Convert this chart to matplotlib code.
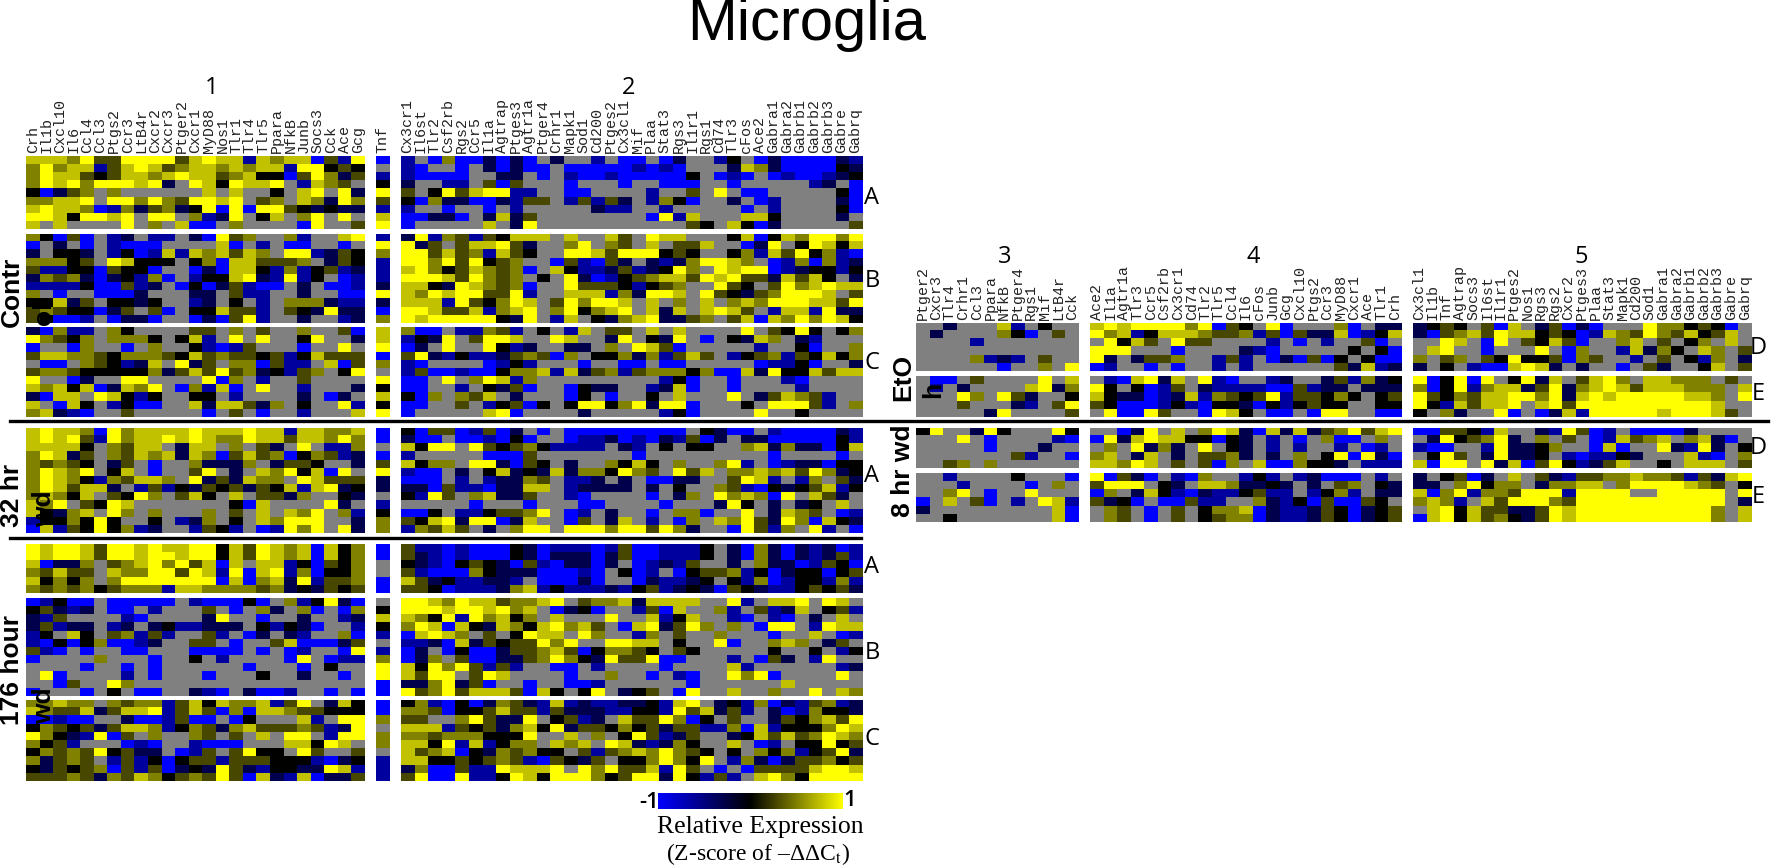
import numpy as np
import matplotlib
matplotlib.use("Agg")
import matplotlib.pyplot as plt
from matplotlib.colors import LinearSegmentedColormap

W, H = 1772, 868
plt.rcParams['mathtext.fontset'] = 'stix'

# ---------- gene labels ----------
genes1 = "Crh Il1b Cxcl10 Il6 Ccl4 Ccl3 Ptgs2 Ccr3 LtB4r Cxcr2 Cxcr3 Ptger2 Cxcr1 MyD88 Nos1 Tlr1 Tlr4 Tlr5 Ppara NfkB Junb Socs3 Cck Ace Gcg".split()
genes_tnf = ["Tnf"]
genes2 = "Cx3cr1 Il6st Tlr2 Csf2rb Rgs2 Ccr5 Il1a Agtrap Ptges3 Agtr1a Ptger4 Crhr1 Mapk1 Sod1 Cd200 Ptges2 Cx3cl1 Mif Plaa Stat3 Rgs3 Il1r1 Rgs1 Cd74 Tlr3 cFos Ace2 Gabra1 Gabra2 Gabrb1 Gabrb2 Gabrb3 Gabre Gabrq".split()
genes3 = "Ptger2 Cxcr3 Tlr4 Crhr1 Ccl3 Ppara NfkB Ptger4 Rgs1 Mif LtB4r Cck".split()
genes4 = "Ace2 Il1a Agtr1a Tlr3 Ccr5 Csf2rb Cx3cr1 Cd74 Tlr2 Tlr5 Ccl4 Il6 cFos Junb Gcg Cxcl10 Ptgs2 Ccr3 MyD88 Cxcr1 Ace Tlr1 Crh".split()
genes5 = "Cx3cl1 Il1b Tnf Agtrap Socs3 Il6st Il1r1 Ptges2 Nos1 Rgs3 Rgs2 Cxcr2 Ptges3 Plaa Stat3 Mapk1 Cd200 Sod1 Gabra1 Gabra2 Gabrb1 Gabrb2 Gabrb3 Gabre Gabrq".split()

# ---------- values: one letter per cell ----------
# B -1, b -.6, n -.3, k 0, d .3, o .5, m .75, y 1, . not detected
levels = {'B': -1, 'b': -.62, 'n': -.3, 'k': 0, 'd': .28, 'o': .5, 'm': .75, 'y': 1, '.': np.nan}

p1_contr_a = ["mmmoyddyyyydmymmbmommBdby","oyommbdmymdommomommbyykdk","oymmdkdmmomymmdomkkBdyond","oymyoyyymyn.ymkymmy.bmod.","kBndo.o......m.m..k.my.yn","oommy.yyoyodyymy.do.monyo","mymmoBbondonkyByByydknknn","yymkyymy.yy.obny.km.oy.y.","m.m....y.o.mBB.o....By..d"]
p1_contr_b = ["okBdB.bn.bb.nBydo..ob..my","B.n.B.bBBB....mB.b.BB..B.","n.kkn.bkBbmbmomdmo.yybndk","oookd.ymkkk.koBmmdddo.ndk","dbbkkBdkkB..BnBmmkbobkdbn","nodonBnkboB.bkkmynbybk.Bb","bbbbkBBdbn.BkBndbBB.n.BBb","o.B..BBBn...nn.dbb..n..BB","kkmnd.kknk..bn.k.b.ooonbb","dodkkBnd.dB.kkmddb.dknynn","dkBBb.BnnB..BnBdyb..n..bn"]
p1_contr_c = ["nBobb.ok....dd.o.d..o..dB","yodko.oook.kmb.y.y..ky..n","B..Bo..B.o..kbBbd...B..y.","dmmoodkooodkmdoddkdbkmddd",".BB.odkbnm.ynd.ooBdbb.mBd","doodkkkkkondmdydonkbdo.ky","y..Bn..yy....yBo.b..d....","momkmBnmoy.BobmB.y..b...n","nBmm.ymkbk..kk.b....n.Bn.","m.Bmk.bkBB..mnmmdno.k..yb","omnbB..d.....B.d.B..b...m"]
p1_32_a = ["mymmoByommmmymmmymmbmmoom","mymydbyommymymooymmdmmoyo","mmmmk.odmm.nmm.o.dn.y.bbo","oymnd.odmomnmoBdmdoBkodbn","ododk.nd.B..onnno.nddk..n","oymoy.km.B..dy.n.moykmBy.","oymokbodmmo.yndnmoo.ymddd","oymdmmn.bdbkndkdndkmbmynk","omokm.dkyo.dmk.m.ddno..kn","moy.dkym.......kBm....yn.","mknom.yo.o...o.d.m.moy.ob","bkkokyk..k.bno.k.moyyy..n","Bmbdkykobn..bdkb.Bbyoy.yn"]
p1_176_a = ["ymyymdyymymmyykmdymomBmko","ymyymdyymyymyykmdymomBmko","mBnno.domyoydmBm.mmbkBdko","odmdd.mooyydymbyBmyboBkko","mkoko.oyyyyyyyBmBomnybddo","ododokdooobmmoooodonkndkd"]
p1_176_b = ["BbkBB.BBBBB.bBBBkB.obkynB","kdnbn.BB.b...d.B.on.oB.Bo","nbd....bB....ny..B..n..bn","ndbnn.bn.nkbbnnn.kbknB..b","bk.mk.dobdb..db.Bn.nb..oB","bBkBkoBBbn..dd.B..dmBBBnd","dbB.B..BB...BBBB.B.Bb..By","B....o...B..k.b....By.Bbb","....B..B.B......B...B.k..",".yB....b.B...B...k..n..B.","..Bd..yo.................","B...B.k.BB..nbB.nBBb..B.B"]
p1_176_c = ["oomoo.odoobdmkmoombdy.nmk","moddmndmmybdmdBoBmmoddkkk","BBbBB..nBBbdBB.Bk...mb.yy","kodkdndmmobkodnomdddodbny","yoknbyBd.o..od.d.m.yy.byy","okdb...BbB..bBBB...mmkym.","kododykdnn.Bbd.dykk.yd..d","ondod.bdbkBkddbdddkkkbBnk","kndkdoBdbdBnknydnbkknnymb","dddodnodmokdodydBmnbmBnnd"]

tnf_contr_a = "B.bkydbmy"
tnf_contr_b = "byobbbnynBo"
tnf_contr_c = "mmyBo.ykmky"
tnf_32_a = "BB.Bdynn.bkoo"
tnf_176_a = "BB..BB"
tnf_176_b = ".kmkb.boyyBB"
tnf_176_c = "BBo.oo.bbb"

p2_contr_a = ["b.BoBBnBnB.n..b.BB.Bn..bk.BnBBBBnb","bB..B.nBnBB.BBBBBbBbB...nmonBBBBkn","bBBBB..nn.B.bBBbBBBBBk.BbB.BbBBbnk","n..bb.dBd...B...B..BBB..B.....bn.B","d.kydmyybb..BB....b..d.y.BB.....kB","kBonnBBnbdd.bdbdn.bokB..n.Bb....nB","b..B..B.b.....nbb..b.....B.b....kB","BBnnB.nmnd........Bybm...mmk....n.","B.....m.ny...........dk.mkBn.....d"]
p2_contr_b = ["nybodbdkmmm.m..md.ymm...kmBkmoyyoy","ynd.dmmydn..oy.od.m.ddm..Bny.kymkm","yydmdobmdk..yymdyyykdk..kobmdykobB","yyoydykdo..BdbBdn.nbnoyymo.BboBobn","myokdmodoB.mkbbndbnkyo.ymyyBbnkkbk","yyymdyodo.k.ynBbkdommdymyddnmdmk.n","mmknymodoB..ydddkbkdo..ydk.dyomymm","moymyyddyb..mmmbonyym.ydkndoyyym.d","mmmbydkoym.dyoyym.m.o.m.omoyyymmdy","yymddmbomy.oykomy.mnm.mymd.bmmbynn","ymyyyyykny.bm.knomynndo.dmBmoyoymk"]
p2_contr_c = ["oBB.bbodb.k.bm.dd.m.m....y.dkyk.ko","bkny.dyym..ym..ny.kny.B.knmo.nb...","Bn.y..ykbn..nn.o.ymdB.....b..kB..o","dynbkbbndodBo.kkonobdmd.bkdobdkmko","bB....Bbkb...B..BB.BB.....BbbkB..n","bdBBbBBkoombmndobdoookoBBmnykkmdmm","BB.y.oymbo.........bkB..B...bB....","BB..b.kndB..Bknn..bnmB..B....b....","kBo.odm.n...Bk.B..k.m...y.ndmodb..","BB..d.bkdBk.kyykoynyyB...k.yyydb.o","B.....myB....n.....bkB....y..k...."]
p2_32_a = ["kBddBbdBn.B.BBBBBBBBB.knBB.bBBBBnb","nBB.BBbBkB..BbbnBbBnbdBn.nnBBBBBkb","mkyy.ydkdokbbbb.nb.k.kk..omnonnBkm","b.....BBBd.......B.........B....B.","mkoo.yynBdk.n..okmk.o..oyb.BbnnBkk","bBB.n.kmnknmnookyod.ydm.oomomdyonk","BBB.b.bnnod.bbn.n.BBnn..dymb.bo.dn","nnBdbbBnnmm.bnnnn.n.k..odbBknkdmbk","kbyd.omnnd..bB....B.no.yomoBy.mdn.",".....B...B...BB....B...nyk.n.nk.m.","BBk.bbkddoy.Bb.n..B.ooB..y.nmod.Bb","dkmynyyBnm..Bd.nm.b.Bo.moydnyoBmkn","bodmd.n.oyy.yyyoyydyon..Bydbo.yb.B"]
p2_176_a = ["dbbBbBBBknBbbbBbdBBbbbk.nBonBnbnBb","dnbBbBBBknBnnnBndBBbbbk.nBonBnbndb","knbBkdknBdbBnnBn.Bbnbd..n.onnBbdkB","dbBBBoknnnBBBbB.kBb.BkddobkBnkkBkd","mdnkbbnnb.BBBnB..Bnbbnk.kboBbkkbob","ddkBbbbnombkbbbnbkdbnknBdknbbkdkdn"]
p2_176_b = ["yymoymmdoomy.doomnmmmm..yb.mmy.ym.","yyymyymyom.BnkB..bdBm..ob.dbnm.kdb","mokybyomko.m...y..mbkm..bB.bB.n.m.","oymBmknmokmyomd.Bmyndyo.o.Byy.bymm","Bmymo.d.kymm.yo..bo.d..o...B..m.Bb","bbnBmndkddyoy..yymm.k..yB..omo.nd.","Bn.BkBBnddomdBkoodk.dk.....k..k.bk","Bno.dBBnndoyoknyddyBB...b.Bdn.by.","mkyoydbdb..BB.b....B....mb......bn","mdyy.dym....B..o..B.bB..yoyB....y.","nnoyndB..B..BBb......B......m.....","ydoydmmmdBmk.ky.nkd.By..m..o..y.mo"]
p2_176_c = ["kobBkBnodnbmbnbbnnkbmy.nkboBnbdobn","oodBkkdmddbdnnnbbkkbydmndb.nBbokkn","dd..oydnny.kdbn.mddyoBk.d..ndkomdy","mmmbdkdnomkynddkokdnddbboBmbkkkoym","oodoookkky..m.o.kydbnd..nkmdmdoymo","mmkybmbkoo.mom.ymnbnok..m.Bb.kkykd","mdomBknodokk.dbdomoyodk.k.okobkdyn","mmkkdkdodbBdknd.kkoyoky.bonBnddokd","noBBdbbymmmy.yoyddmbyd.B.Bddddmyym","dyBBybbkymkyyyokdyynykbdb.myokyyyy"]

p3_eto_d = ["..n...mb.k..",".n....okB.d.","....b.......","............","....obnb.d..","......B..o.y"]
p3_eto_e = [".BB.d....y.m",".b.n....myno","...yo.ydn..k","...d...nb.dy",".....ny....d"]
p3_8_d = ["ky..nyk...yk","...y.B....bB",".....B...n..",".......db..B","..do.o......"]
p3_8_e = ["..b....k...B","...b....B.o.","..oy.B..y...","B.m.dB.b.ymb","n.........mB","..k.......mB"]

p4_eto_d = ["mymyyyyoyBdk.yB...oB.nn","yombkmmmoddobdBdnnmBbkm",".ykmd.ydd....b.B.b..dB.","yyy...B....nbB.....k.kB","yn.nddo..bdb.BnBdBk.kBB","Bb..B.B..b.b......dnmbn"]
p4_eto_e = [".bBmynm.ybB..bn..ndbonk","yk.kBbd.nbbbbBBdbnn.nnn","mknnBbnmbodkdybddkok.kd","dkBBBbkbBkknBkbkdkk..kk",".yBByd..Bymk.BB.Byy..BB"]
p4_8_d = ["..Bny.m.oymnBmnmndoydmy","BynmymmkkBkn.b.B.oBB.o.",".o.ynon.y.kn.b.b..b.Bb.","om.nm.n.ddon.n.o.kyBynB","mmoym.d.dBo.mBBokkn.bbb"]
p4_8_e = ["yBdnB.bBo..bkb.bnBBB.b.","dyyy.kn.mmonnkn.n.do.kn","Bo.nmkbBnbbkdbb.bkob.nn","dnkB.BBdbb..onbkBdBBdk.",".od.B.d.koomBnbbndkBnkd",".od.B.d.kdooBnbbndkBnkd"]

p5_eto_d = ["nkdk.dBm.ndBnB...yookdkB.","nBdomdymmkdkBbmodyodmkdm","..ym.By.dkmdB..om.d.ko.m.",".my..B...y.Bo..bmnok.mo.d","o.do.dkykkdBod..b.d.kbo.n","n.k.bBBmymn.n..B.dn..km.d"]
p5_eto_e = ["yBkyBy.kynm.dmyo.mmooo.d.","oBkybommndynomymdmmmooo.m","ydkodmmyyoynmymyyyyymmo.y","ykbmdmmy.mydyyyyyyyyyym..","k.on..yB.Bnmbyyyyymyyymd."]
p5_8_d = ["BBddkbm..nbydBb.BBBBn....",".nykdoyn.o.d.Bbmdom.omnB.","bBB..bynnko..BmB..ynbyn.k",".kyd.nynnk.bBbbkn...mbB.o","mByy.ynmBdykbndm..k.mmm.d"]
p5_8_e = ["n.kdBn.m.dnbddoomoodbdnmy","nn.oykoo.noomm.oyyyymod.k","mBoyboodyyybyyyy..yyyyy.y","omob.mdyyyodyyyyyyyyyyy.n",".mykmddnndymyyyyyyyyyyo.m","Bmykmdokndymyyyyyyyyyyo.m"]

cmap = LinearSegmentedColormap.from_list('byk', [(0, 0, 1), (0, 0, 0), (1, 1, 0)])
cmap.set_bad('#808080')


def decode(rows, n):
    return np.array([[levels[c] for c in r.ljust(n, '.')[:n]] for r in rows], float)


def heat(rows, x0, y0, y1, labels, show=False):
    """x0,y0,y1 in figure pixels; one cell is CELL px wide."""
    n = len(labels)
    ax = fig.add_axes([x0 / W, 1 - y1 / H, n * CELL / W, (y1 - y0) / H])
    ax.imshow(decode(rows, n), cmap=cmap, vmin=-1, vmax=1, aspect='auto', interpolation='nearest')
    for s in ax.spines.values():
        s.set_visible(False)
    ax.set_yticks([])
    if show:
        ax.xaxis.tick_top()
        ax.set_xticks(range(n))
        ax.set_xticklabels(labels, rotation=90, family='Liberation Mono', fontsize=10.8, color='#222222')
        ax.tick_params(axis='x', length=0, pad=2.5)
    else:
        ax.set_xticks([])
    return ax


def t(x, y, s, **kw):
    kw.setdefault('ha', 'center')
    kw.setdefault('va', 'center')
    fig.text(x / W, 1 - y / H, s, **kw)


CELL = 13.56
fig = plt.figure(figsize=(W / 100, H / 100), dpi=100, facecolor='white')

# row spans in pixels
L_CONTR_A, L_CONTR_B, L_CONTR_C = (156, 229), (233.5, 323.5), (327, 417)
L_32_A = (427.5, 533)
L_176_A, L_176_B, L_176_C = (544, 593), (598, 696), (700, 781)
R_ETO_D, R_ETO_E, R_8_D, R_8_E = (323, 371.5), (376, 417), (427.5, 468.5), (473, 522)

X1, XT, X2, X3, X4, X5 = 26, 376, 400.5, 916, 1090, 1412.5

left = [(p1_contr_a, tnf_contr_a, p2_contr_a, L_CONTR_A, True),
        (p1_contr_b, tnf_contr_b, p2_contr_b, L_CONTR_B, False),
        (p1_contr_c, tnf_contr_c, p2_contr_c, L_CONTR_C, False),
        (p1_32_a, tnf_32_a, p2_32_a, L_32_A, False),
        (p1_176_a, tnf_176_a, p2_176_a, L_176_A, False),
        (p1_176_b, tnf_176_b, p2_176_b, L_176_B, False),
        (p1_176_c, tnf_176_c, p2_176_c, L_176_C, False)]
for p1, tn, p2, (a, b), show in left:
    heat(p1, X1, a, b, genes1, show)
    heat([c for c in tn], XT, a, b, genes_tnf, show)
    heat(p2, X2, a, b, genes2, show)

right = [(p3_eto_d, p4_eto_d, p5_eto_d, R_ETO_D, True),
         (p3_eto_e, p4_eto_e, p5_eto_e, R_ETO_E, False),
         (p3_8_d, p4_8_d, p5_8_d, R_8_D, False),
         (p3_8_e, p4_8_e, p5_8_e, R_8_E, False)]
for p3, p4, p5, (a, b), show in right:
    heat(p3, X3, a, b, genes3, show)
    heat(p4, X4, a, b, genes4, show)
    heat(p5, X5, a, b, genes5, show)

# separator lines
fig.add_artist(plt.Line2D([10 / W, 1768 / W], [1 - 421 / H] * 2, color='black', lw=2.4))
fig.add_artist(plt.Line2D([10 / W, 861 / W], [1 - 538 / H] * 2, color='black', lw=2.4))

# titles and labels
t(807, 24, 'Microglia', family='Liberation Sans', fontsize=43)
sans = dict(family='Open Sans', fontsize=17)
for x, y, s in [(212, 88, '1'), (629, 88, '2'), (1005, 257, '3'), (1253, 257, '4'), (1581, 257, '5')]:
    t(x, y, s, **sans)
for x, y, s in [(872, 198, 'A'), (872, 281, 'B'), (872, 363, 'C'), (872, 476, 'A'), (872, 567, 'A'),
                (872, 653, 'B'), (872, 739, 'C'), (1758, 348, 'D'), (1758, 394, 'E'), (1758, 448, 'D'),
                (1758, 497, 'E')]:
    t(x, y, s, **sans)

bold = dict(family='Liberation Sans', fontweight='bold', fontsize=19, rotation=90)
t(12, 292, 'Contr', **bold)
t(44, 313, 'ol', **bold)
t(12, 495, '32 hr', **bold)
t(44, 509, 'wd', **bold)
t(12, 670, '176 hour', **bold)
t(44, 706, 'wd', **bold)
t(903, 377, 'EtO', **bold)
t(933, 390, 'h', **bold)
t(903, 471, '8 hr wd', **bold)

# colour scale
cax = fig.add_axes([658 / W, 1 - 809 / H, 184 / W, 16 / H])
cax.imshow(np.linspace(-1, 1, 256)[None, :], cmap=cmap, vmin=-1, vmax=1, aspect='auto')
cax.axis('off')
t(649, 802, '-1', family='Open Sans', fontsize=16, fontweight='semibold')
t(850, 801, '1', family='Open Sans', fontsize=16, fontweight='semibold')
t(760, 827, 'Relative Expression', family='Liberation Serif', fontsize=18.5)
t(758, 854, '(Z-score of –ΔΔC$_{\\mathrm{t}}$)', family='Liberation Serif', fontsize=17)

fig.savefig('out.png', dpi=100, facecolor='white')
